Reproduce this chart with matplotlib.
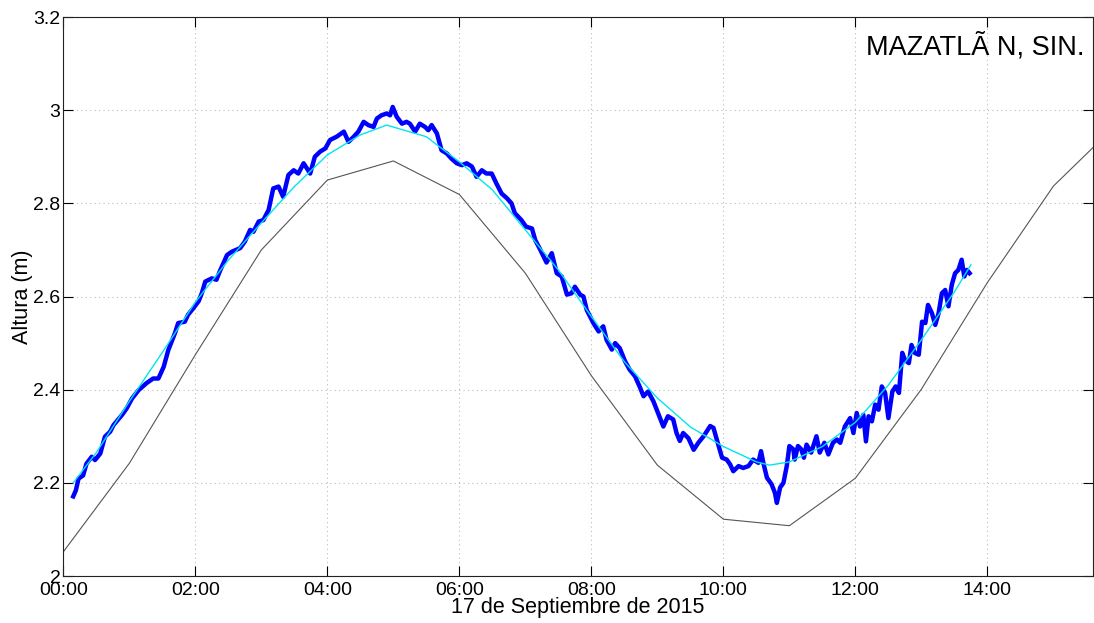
import matplotlib
matplotlib.use("Agg")
import matplotlib.pyplot as plt
from matplotlib.ticker import FixedLocator

plt.rcParams['font.family'] = ['Liberation Sans', 'DejaVu Sans']

# ========== DATA ==========
# predicted tide (hourly), hours since 00:00
pred_hours = [0, 1, 2, 3, 4, 5, 6, 7, 8, 9, 10, 11, 12, 13, 14, 15, 16]
pred_level = [2.052, 2.242, 2.475, 2.70, 2.85, 2.891, 2.819, 2.65, 2.43, 2.238,
              2.122, 2.108, 2.21, 2.401, 2.63, 2.837, 2.975]

obs_hours = [0.15, 0.19, 0.23, 0.30, 0.35, 0.43, 0.48, 0.56, 0.63, 0.71, 0.76, 0.89,
             0.96, 1.04, 1.14, 1.26, 1.36, 1.44, 1.52, 1.59, 1.69, 1.74, 1.84, 1.89,
             1.97, 2.05, 2.10, 2.15, 2.25, 2.32, 2.37, 2.48, 2.55, 2.68, 2.75, 2.83,
             2.88, 2.96, 3.03, 3.11, 3.18, 3.26, 3.33, 3.41, 3.49, 3.56, 3.64, 3.74,
             3.81, 3.89, 3.97, 4.04, 4.14, 4.25, 4.32, 4.40, 4.47, 4.55, 4.62, 4.70,
             4.75, 4.82, 4.90, 4.95, 4.99, 5.05, 5.13, 5.20, 5.25, 5.33, 5.40, 5.48,
             5.53, 5.58, 5.66, 5.73, 5.81, 5.88, 5.96, 6.04, 6.11, 6.19, 6.26, 6.34,
             6.41, 6.49, 6.56, 6.64, 6.72, 6.79, 6.84, 6.94, 7.01, 7.10, 7.15, 7.22,
             7.32, 7.40, 7.475, 7.55, 7.63, 7.70, 7.75, 7.83, 7.88, 7.93, 8.03, 8.11,
             8.18, 8.23, 8.31, 8.36, 8.43, 8.51, 8.58, 8.66, 8.73, 8.79, 8.86, 8.94,
             9.01, 9.09, 9.16, 9.24, 9.29, 9.34, 9.39, 9.47, 9.55, 9.62, 9.70, 9.80,
             9.85, 9.90, 9.98, 10.05, 10.10, 10.15, 10.23, 10.30, 10.38, 10.45, 10.53,
             10.57, 10.61, 10.66, 10.73, 10.78, 10.81, 10.86, 10.91, 10.96, 11.00,
             11.06, 11.08, 11.13, 11.18, 11.22, 11.26, 11.33, 11.41, 11.46, 11.53,
             11.59, 11.66, 11.72, 11.77, 11.84, 11.92, 11.97, 12.02, 12.07, 12.12,
             12.16, 12.20, 12.25, 12.30, 12.35, 12.40, 12.45, 12.50, 12.56, 12.61,
             12.66, 12.71, 12.75, 12.81, 12.85, 12.90, 12.96, 13.01, 13.06, 13.10,
             13.16, 13.21, 13.26, 13.31, 13.36, 13.41, 13.46, 13.51, 13.56, 13.61,
             13.65, 13.69, 13.73]
obs_level = [2.171, 2.184, 2.209, 2.216, 2.241, 2.256, 2.249, 2.263, 2.299, 2.310, 2.324, 2.346,
             2.360, 2.381, 2.399, 2.414, 2.424, 2.424, 2.449, 2.485, 2.521, 2.543, 2.546, 2.561,
             2.575, 2.590, 2.608, 2.632, 2.639, 2.636, 2.654, 2.689, 2.696, 2.704, 2.718, 2.743,
             2.739, 2.761, 2.764, 2.786, 2.832, 2.836, 2.814, 2.861, 2.871, 2.864, 2.886, 2.864,
             2.900, 2.911, 2.918, 2.936, 2.943, 2.954, 2.932, 2.943, 2.954, 2.975, 2.968, 2.964,
             2.982, 2.989, 2.993, 2.989, 3.007, 2.986, 2.971, 2.975, 2.971, 2.954, 2.971, 2.964,
             2.957, 2.968, 2.950, 2.914, 2.907, 2.896, 2.886, 2.882, 2.886, 2.879, 2.857, 2.871,
             2.864, 2.864, 2.843, 2.821, 2.811, 2.800, 2.779, 2.764, 2.750, 2.746, 2.721, 2.702,
             2.673, 2.693, 2.650, 2.643, 2.604, 2.607, 2.621, 2.604, 2.600, 2.571, 2.543, 2.525,
             2.536, 2.507, 2.486, 2.500, 2.489, 2.461, 2.443, 2.429, 2.407, 2.386, 2.396, 2.375,
             2.350, 2.321, 2.343, 2.336, 2.307, 2.290, 2.307, 2.296, 2.271, 2.286, 2.300, 2.322,
             2.318, 2.293, 2.254, 2.250, 2.240, 2.225, 2.236, 2.232, 2.236, 2.250, 2.243,
             2.268, 2.240, 2.211, 2.197, 2.179, 2.157, 2.190, 2.200, 2.236, 2.279,
             2.272, 2.250, 2.279, 2.272, 2.254, 2.282, 2.265, 2.300, 2.265, 2.286,
             2.261, 2.286, 2.293, 2.286, 2.321, 2.339, 2.307, 2.350, 2.321, 2.346,
             2.289, 2.343, 2.332, 2.368, 2.357, 2.407, 2.393, 2.339, 2.396, 2.407,
             2.393, 2.479, 2.464, 2.457, 2.496, 2.479, 2.475, 2.546, 2.543, 2.582,
             2.564, 2.539, 2.564, 2.607, 2.614, 2.579, 2.625, 2.650, 2.657, 2.679,
             2.643, 2.657, 2.650]

# smoothed / fitted level
fit_hours = [0.15, 0.5, 1.0, 1.5, 2.0, 2.5, 3.0, 3.5, 4.0, 4.5, 4.9, 5.5, 6.0, 6.5,
             7.0, 7.5, 8.0, 8.5, 9.0, 9.5, 10.0, 10.5, 10.7, 11.0, 11.5, 12.0,
             12.5, 13.0, 13.5, 13.75]
fit_level = [2.200, 2.265, 2.375, 2.480, 2.588, 2.678, 2.758, 2.836, 2.904, 2.947,
             2.968, 2.943, 2.889, 2.829, 2.743, 2.657, 2.557, 2.460, 2.382, 2.320,
             2.278, 2.245, 2.238, 2.245, 2.278, 2.330, 2.410, 2.507, 2.610, 2.668]

x_ticks = [0, 2, 4, 6, 8, 10, 12, 14]
x_tick_labels = ["00:00", "02:00", "04:00", "06:00", "08:00", "10:00", "12:00", "14:00"]
y_ticks = [2.0, 2.2, 2.4, 2.6, 2.8, 3.0, 3.2]
y_tick_labels = ["2", "2.2", "2.4", "2.6", "2.8", "3", "3.2"]

# ========== PLOT ==========
fig = plt.figure(figsize=(10.94, 6.23), dpi=100)
ax = fig.add_axes([0.0579, 0.0754, 0.9412, 0.8973])

ax.plot(pred_hours, pred_level, color="#555555", lw=0.8)
ax.plot(obs_hours, obs_level, color="#0000ff", lw=3.2, solid_joinstyle="round")
ax.plot(fit_hours, fit_level, color="#00e5ee", lw=1.0)

ax.set_xlim(0, 15.6)
ax.set_ylim(2.0, 3.2)
ax.xaxis.set_major_locator(FixedLocator(x_ticks))
ax.set_xticklabels(x_tick_labels)
ax.yaxis.set_major_locator(FixedLocator(y_ticks))
ax.set_yticklabels(y_tick_labels)

ax.grid(True, linestyle=(0, (1, 3)), color="#bbbbbb", lw=0.8)
ax.tick_params(direction="in", length=7, width=0.8, top=True, right=True,
               labelsize=14)
ax.tick_params(axis="y", pad=2)
ax.tick_params(axis="x", pad=4)
for s in ax.spines.values():
    s.set_color("#222222")
    s.set_linewidth(0.8)

ax.set_ylabel("Altura (m)", fontsize=15.5, labelpad=0)
ax.set_xlabel("17 de Septiembre de 2015", fontsize=15.5, labelpad=-1)
ax.text(0.992, 0.946, "MAZATLÃ N, SIN.", transform=ax.transAxes,
        ha="right", va="center", fontsize=19.5)

fig.savefig("out.png", dpi=100)
